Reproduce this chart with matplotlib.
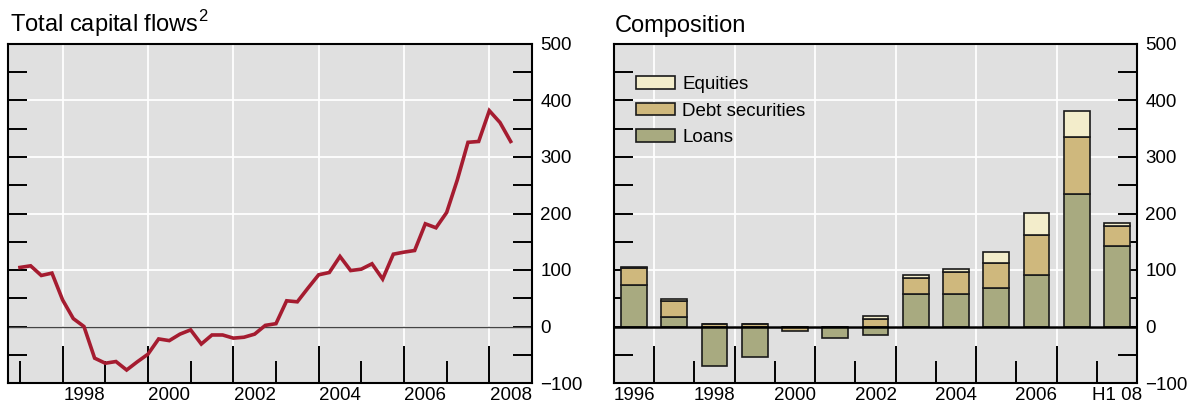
import matplotlib
matplotlib.use("Agg")
import matplotlib.pyplot as plt
import numpy as np
import pandas as pd
from matplotlib.patches import Patch

plt.rcParams['font.family'] = ['Liberation Sans', 'DejaVu Sans']

# ---- data ----
quarters = pd.period_range('1996Q4', '2008Q2', freq='Q')
total_flows = [104.5, 107.4, 90.3, 94.5, 47, 14, 0, -56, -65, -62, -77, -62.5,
               -49, -22, -25, -13.5, -6, -31, -15, -15, -20.6, -19, -13.5, 2,
               5, 45.5, 43.7, 68, 91.5, 95.6, 124, 99, 101.5, 111, 84, 128,
               131.6, 134.5, 181.8, 174.7, 201.8, 259.6, 326, 327.5, 382, 361, 327.5]

categories = ['1996', '1997', '1998', '1999', '2000', '2001', '2002', '2003',
              '2004', '2005', '2006', '2007', 'H1 08']
loans = [74, 16, -70, -54, 0, -21, -15, 58, 58, 69, 91, 234, 143]
debt = [29, 30, 4, 4, -8, 0, 14, 27, 38, 43, 71, 102, 35]
equities = [2, 3, 0, 0, 0, 0, 4, 6, 6, 20, 39, 45, 5]

cat_labels = ['1996', '', '1998', '', '2000', '', '2002', '', '2004', '', '2006', '', 'H1 08']
year_labels = ['1998', '2000', '2002', '2004', '2006', '2008']

# ---- style ----
BG = '#e0e0e0'
LINE = '#a51c30'
C_LOANS = '#a8aa80'
C_DEBT = '#cfb87d'
C_EQ = '#f3edcb'
FS = 13.5

W, H = 1194, 405
fig = plt.figure(figsize=(W / 100, H / 100), dpi=100)

def px_axes(x0, x1, y0, y1):
    return fig.add_axes([x0 / W, 1 - y1 / H, (x1 - x0) / W, (y1 - y0) / H])

def style_axes(ax):
    ax.set_facecolor(BG)
    ax.set_ylim(-100, 500)
    ax.set_yticks(np.arange(-100, 501, 100))
    ax.set_yticks(np.arange(-50, 500, 100), minor=True)
    ax.tick_params(axis='y', which='both', left=True, right=True, labelleft=False,
                   labelright=True, direction='in', length=13.5, width=1.4,
                   labelsize=FS, pad=6.0)
    ax.tick_params(axis='x', which='both', direction='in', width=1.4,
                   labelbottom=False, bottom=True, top=False)
    ax.tick_params(axis='x', which='major', length=26.5)
    ax.tick_params(axis='x', which='minor', length=15.8)
    for s in ax.spines.values():
        s.set_linewidth(1.5)
        s.set_color('black')
    ax.set_axisbelow(True)
    ax.grid(True, which='major', color='white', linewidth=1.3)

# ---- left panel ----
ax1 = px_axes(8, 532, 44, 383)
style_axes(ax1)
xq = [p.year + p.quarter / 4 for p in quarters]
ax1.set_xlim(1996.72, 2009.0)
ax1.set_xticks(np.arange(1998, 2009, 2))
ax1.set_xticks(np.arange(1997, 2009, 2), minor=True)
ax1.axhline(0, color='#444444', linewidth=1.0, zorder=2)
ax1.plot(xq, total_flows, color=LINE, linewidth=2.6, zorder=3, solid_joinstyle='miter')
sec1 = ax1.secondary_xaxis('bottom')
sec1.set_xticks([int(y) + 0.5 for y in year_labels])
sec1.set_xticklabels(year_labels)
sec1.tick_params(length=0, labelsize=FS, pad=3)
sec1.spines['bottom'].set_visible(False)

# ---- right panel ----
ax2 = px_axes(614, 1137, 44, 383)
style_axes(ax2)
n = len(categories)
x = np.arange(n)
ax2.set_xlim(-0.5, n - 0.5)
ax2.set_xticks(np.arange(0.5, n - 1, 2))
ax2.set_xticks(np.arange(1.5, n - 1, 2), minor=True)

pos_base = np.zeros(n)
neg_base = np.zeros(n)
handles = []
for vals, col, lab in [(loans, C_LOANS, 'Loans'), (debt, C_DEBT, 'Debt securities'),
                       (equities, C_EQ, 'Equities')]:
    v = np.array(vals, dtype=float)
    base = np.where(v >= 0, pos_base, neg_base)
    ax2.bar(x, v, bottom=base, width=0.64, color=col, edgecolor='#1a1a1a',
            linewidth=1.2, zorder=3)
    pos_base = pos_base + np.where(v > 0, v, 0)
    neg_base = neg_base + np.where(v < 0, v, 0)
    handles.append(Patch(facecolor=col, edgecolor='#1a1a1a', linewidth=1.2, label=lab))
ax2.axhline(0, color='black', linewidth=1.8, zorder=4)

sec2 = ax2.secondary_xaxis('bottom')
sec2.set_xticks(x[::2])
sec2.set_xticklabels([l for l in cat_labels if l])
sec2.tick_params(length=0, labelsize=FS, pad=3)
sec2.spines['bottom'].set_visible(False)

leg = ax2.legend(handles=handles[::-1], loc='upper left', bbox_to_anchor=(0.043, 0.905),
                 frameon=False, fontsize=FS, handlelength=2.08, handleheight=0.68,
                 handletextpad=0.37, labelspacing=0.5, borderaxespad=0, borderpad=0)

# ---- titles ----
fig.text(10 / W, 1 - 31.7 / H, r'Total capital flows$^{\mathregular{2}}$', fontsize=17,
         va='baseline', ha='left')
fig.text(615 / W, 1 - 31.7 / H, 'Composition', fontsize=17, va='baseline', ha='left')

fig.savefig('out.png', dpi=100, facecolor='white')
